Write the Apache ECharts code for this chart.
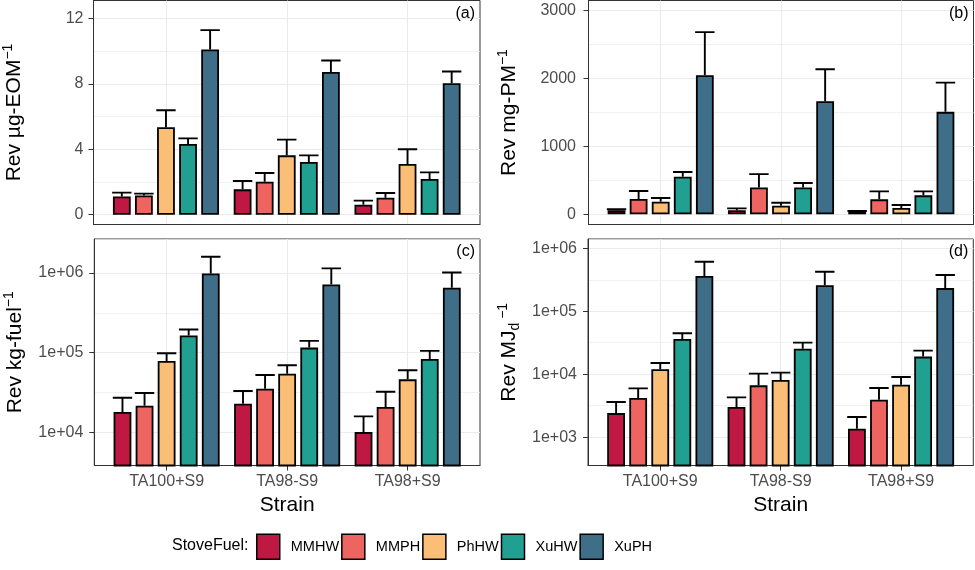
<!DOCTYPE html>
<html><head><meta charset="utf-8">
<script src="https://cdn.jsdelivr.net/npm/echarts@6/dist/echarts.min.js"></script>
<style>html,body{margin:0;padding:0;background:#fff}#c{width:975px;height:570px}</style>
</head><body><div id="c"></div>
<script>
// ---------- data ----------
const strains = ['TA100+S9', 'TA98-S9', 'TA98+S9'];
const fuels = ['MMHW', 'MMPH', 'PhHW', 'XuHW', 'XuPH'];

// (a) Rev per ug-EOM : rows = fuels, cols = strains
const eomMean  = [[1.12, 1.55, 0.61], [1.18, 2.02, 1.04], [5.35, 3.63, 3.10], [4.33, 3.22, 2.18], [10.1, 8.73, 8.04]];
const eomUpper = [[1.35, 2.06, 0.86], [1.29, 2.55, 1.33], [6.39, 4.59, 4.00], [4.67, 3.63, 2.59], [11.29, 9.43, 8.76]];
// (b) Rev per mg-PM
const pmMean  = [[58, 60, 38], [225, 396, 220], [186, 127, 93], [553, 396, 279], [2046, 1664, 1508]];
const pmUpper = [[75, 88, 49], [343, 592, 338], [240, 171, 137], [622, 460, 338], [2682, 2134, 1938]];
// (c) Rev per kg-fuel
const fuelMean  = [[17870, 22750, 10000], [21500, 35100, 20650], [78500, 54300, 46100], [163700, 115600, 83200], [991000, 719000, 653000]];
const fuelUpper = [[27100, 32900, 15750], [31000, 52200, 32200], [98200, 69200, 59900], [195000, 140300, 105000], [1607000, 1145000, 1019000]];
// (d) Rev per MJd
const mjMean  = [[2410, 3006, 1358], [4180, 6650, 3935], [11970, 8090, 6820], [36400, 25500, 19050], [363000, 260500, 233700]];
const mjUpper = [[3610, 4290, 2084], [5960, 10200, 6040], [15100, 10590, 9040], [44800, 31800, 23700], [614000, 425000, 376500]];

// tick labels
const ticksA = [0, 4, 8, 12];
const ticksB = [0, 1000, 2000, 3000];
const ticksC = [1e4, 1e5, 1e6];
const ticksD = [1e3, 1e4, 1e5, 1e6];
const xTicks = [1, 2, 3];

// ---------- styles ----------
const FONT = "'Liberation Sans', Arial, sans-serif";
const fuelColors = ['#BE1843', '#EE6461', '#FBBE76', '#21A092', '#3E6E88'];
const BAR_W = 17.8, BAR_GAP = 0.24;
const SLOT = BAR_W * (1 + BAR_GAP);

const nameRich = {
  m: {fontSize: 21, fontFamily: FONT, color: '#000', lineHeight: 26},
  s: {fontSize: 14, fontFamily: FONT, color: '#000', lineHeight: 14, verticalAlign: 'top'},
  d: {fontSize: 14, fontFamily: FONT, color: '#000', lineHeight: 14, verticalAlign: 'bottom'}
};

const panels = [
  {label: '(a)', mean: eomMean, upper: eomUpper, log: false, min: -0.6, max: 13.1, step: 4, ticks: ticksA,
   grid: {left: 93.5, top: 0.5, width: 386.5, height: 224}, name: '{m|Rev µg-EOM}{s|−1}', margin: 10, showX: false},
  {label: '(b)', mean: pmMean, upper: pmUpper, log: false, min: -150, max: 3147, step: 1000, ticks: ticksB,
   grid: {left: 588.5, top: 0.5, width: 385, height: 224}, name: '{m|Rev mg-PM}{s|−1}', margin: 12.5, showX: false},
  {label: '(c)', mean: fuelMean, upper: fuelUpper, log: true, lmin: 3.58, lmax: 6.4286, ticks: ticksC,
   grid: {left: 94.3, top: 239, width: 385.7, height: 226.5}, name: '{m|Rev kg-fuel}{s|−1}', margin: 11, showX: true},
  {label: '(d)', mean: mjMean, upper: mjUpper, log: true, lmin: 2.549, lmax: 6.149, ticks: ticksD,
   grid: {left: 588, top: 239, width: 385.3, height: 226.5}, name: '{m|Rev MJ}{d|d}{s| −1}', margin: 11, showX: true}
];

const grids = [], xAxes = [], yAxes = [], series = [], titles = [];

panels.forEach((p, i) => {
  grids.push(Object.assign({show: true, borderColor: '#333', borderWidth: 1, backgroundColor: '#fff'}, p.grid));
  xAxes.push({
    type: 'value', gridIndex: i, min: 0.4, max: 3.6, minInterval: 1, maxInterval: 1,
    axisLine: {show: true, onZero: false, lineStyle: {color: '#333', width: 1}},
    axisTick: {show: p.showX, length: 5, customValues: xTicks, lineStyle: {color: '#333', width: 1}},
    axisLabel: {show: p.showX, customValues: xTicks, margin: 8, color: '#4d4d4d', fontSize: 16, fontFamily: FONT,
      formatter: v => Number.isInteger(v) && strains[v - 1] ? strains[v - 1] : ''},
    splitLine: {show: true, lineStyle: {color: '#ebebeb', width: 1.1}},
    name: p.showX ? 'Strain' : '', nameLocation: 'middle', nameGap: 29,
    nameTextStyle: {fontSize: 21, color: '#000', fontFamily: FONT}
  });
  const yIdx = yAxes.length;
  const fmtLog = v => {
    const e = Math.log10(v), n = Math.round(e);
    if (Math.abs(e - n) > 1e-6) return '';
    return '1e+' + (n < 10 ? '0' : '') + n;
  };
  const fmtLin = v => p.ticks.indexOf(v) >= 0 ? String(v) : '';
  yAxes.push({
    type: p.log ? 'log' : 'value', logBase: 10, gridIndex: i,
    min: p.log ? Math.pow(10, p.lmin) : p.min, max: p.log ? Math.pow(10, p.lmax) : p.max,
    minInterval: p.log ? undefined : p.step, maxInterval: p.log ? undefined : p.step,
    axisLine: {show: true, onZero: false, lineStyle: {color: '#333', width: 1}},
    axisTick: {show: true, length: 5, customValues: p.ticks, lineStyle: {color: '#333', width: 1}},
    axisLabel: {customValues: p.ticks, margin: p.margin, color: '#4d4d4d', fontSize: 16, fontFamily: FONT,
      formatter: p.log ? fmtLog : fmtLin},
    splitLine: {show: true, lineStyle: {color: '#ebebeb', width: 1.1}},
    minorTick: {show: false, splitNumber: 2},
    minorSplitLine: {show: !p.log, lineStyle: {color: '#ebebeb', width: 0.7}},
    name: p.name, nameLocation: 'middle', nameGap: 66,
    nameTextStyle: {fontSize: 21, color: '#000', fontFamily: FONT, rich: nameRich}
  });
  if (p.log) {
    // helper axis in log10 units, only for the half-decade (minor) grid lines
    yAxes.push({
      type: 'value', gridIndex: i, min: p.lmin, max: p.lmax, minInterval: 0.5, maxInterval: 0.5,
      axisLine: {show: false}, axisTick: {show: false}, axisLabel: {show: false},
      splitLine: {show: true, lineStyle: {color: '#ebebeb', width: 0.7}}
    });
  }
  fuels.forEach((f, k) => {
    series.push({
      type: 'bar', name: f, xAxisIndex: i, yAxisIndex: yIdx,
      data: strains.map((s, j) => [j + 1, p.mean[k][j]]),
      barWidth: BAR_W, barGap: (BAR_GAP * 100) + '%', clip: true, z: 3,
      itemStyle: {color: fuelColors[k], borderColor: '#000', borderWidth: 1.8},
      emphasis: {disabled: true}
    });
  });
  const errData = [];
  fuels.forEach((f, k) => strains.forEach((s, j) => errData.push([j + 1, p.mean[k][j], p.upper[k][j], k])));
  series.push({
    type: 'custom', xAxisIndex: i, yAxisIndex: yIdx, data: errData, clip: true, z: 4, silent: true,
    encode: {x: 0, y: [1, 2]},
    renderItem: (params, api) => {
      const x = api.value(0), k = api.value(3);
      const p0 = api.coord([x, api.value(1)]);
      const p1 = api.coord([x, api.value(2)]);
      const cx = p0[0] + (k - 2) * SLOT;
      const hw = BAR_W / 2 + 0.8;
      const st = {stroke: '#000', lineWidth: 1.9, fill: null};
      return {type: 'group', children: [
        {type: 'line', shape: {x1: cx, y1: p0[1], x2: cx, y2: p1[1]}, style: st},
        {type: 'line', shape: {x1: cx - hw, y1: p1[1], x2: cx + hw, y2: p1[1]}, style: st}
      ]};
    }
  });
  const right = 975 - (p.grid.left + p.grid.width) + 5;
  titles.push({text: p.label, right: right, top: p.grid.top + 5, padding: 0,
    textStyle: {fontSize: 16, fontWeight: 'normal', color: '#000', fontFamily: FONT}});
});

titles.push({text: 'StoveFuel:', left: 172, top: 538, padding: 0,
  textStyle: {fontSize: 16, fontWeight: 'normal', color: '#000', fontFamily: FONT}});

const chart = echarts.init(document.getElementById('c'), null, {renderer: 'canvas'});
chart.setOption({
  animation: false,
  backgroundColor: '#fff',
  title: titles,
  legend: {
    data: fuels.map(f => ({name: f, icon: 'rect'})), left: 256, top: 533.5, padding: 0,
    itemWidth: 23, itemHeight: 25, itemGap: 2, selectedMode: false,
    itemStyle: {borderColor: '#000', borderWidth: 1.5},
    textStyle: {fontFamily: FONT, fontSize: 14.5, color: '#000', padding: [0, 0, 0, 6]}
  },
  grid: grids, xAxis: xAxes, yAxis: yAxes, series: series
});
</script></body></html>
